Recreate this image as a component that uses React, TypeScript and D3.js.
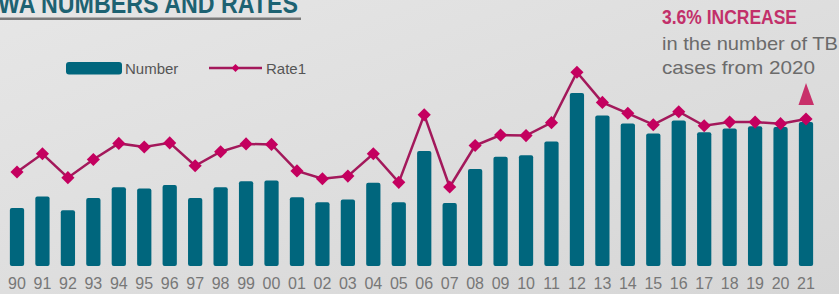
import React, { useEffect } from "react";
import * as d3 from "d3";

const years = ["90","91","92","93","94","95","96","97","98","99","00","01","02","03","04","05","06","07","08","09","10","11","12","13","14","15","16","17","18","19","20","21"];
const numberValues = [80,96,77,94,109,107,112,94,109,117,118,95,88,92,115,88,159,87,134,151,153,172,239,208,197,183,201,185,190,193,192,199];
const rateValues = [1.58,1.93,1.47,1.82,2.13,2.06,2.14,1.70,1.97,2.12,2.11,1.60,1.45,1.50,1.93,1.38,2.68,1.29,2.09,2.29,2.28,2.53,3.50,2.92,2.71,2.49,2.74,2.47,2.54,2.54,2.51,2.60];
const titleText = "WA NUMBERS AND RATES";
const annotHeadline = "3.6% INCREASE";
const annotLines = ["in the number of TB", "cases from 2020"];
const annotWidths = [176, 153];
const legendLabels = ["Number", "Rate1"];

const W = 839, H = 294;
const TEAL = "#00667d";
const LINE = "#a3195b";
const MARK = "#c4005f";

export default function App() {
  useEffect(() => { document.body.style.margin = "0"; }, []);
  const x = d3.scalePoint<string>().domain(years).range([17, 806]);
  const bw = x.step() * 0.56;
  const yN = d3.scaleLinear().domain([0, 199]).range([266, 122]);
  const yR = d3.scaleLinear().domain([0, 2.6]).range([254, 119]);
  const line = d3.line<number>().x((_, i) => x(years[i])!).y(d => yR(d));
  const diamond = d3.symbol().type(d3.symbolDiamond2 || d3.symbolDiamond).size(110)();
  const font = "'Liberation Sans', Arial, sans-serif";
  return (
    <svg width={W} height={H} style={{ display: "block" }} fontFamily={font}>
      <defs>
        <linearGradient id="bg" x1="0" y1="0" x2="1" y2="1">
          <stop offset="0" stopColor="#e6e6e6" />
          <stop offset="1" stopColor="#d6d6d6" />
        </linearGradient>
      </defs>
      <rect width={W} height={H} fill="url(#bg)" />
      <text x={-2} y={13} fontSize={28} fontWeight="bold" fill="#1d6272" textLength={300} lengthAdjust="spacingAndGlyphs">{titleText}</text>
      <rect x={0} y={17.5} width={301} height={2.5} fill="#7a7a7a" />

      <text x={662} y={24} fontSize={20} fontWeight="bold" fill="#c2306a" textLength={135} lengthAdjust="spacingAndGlyphs">{annotHeadline}</text>
      {annotLines.map((t, i) => (
        <text key={t} x={662} y={50 + i * 24} fontSize={19} fill="#6b6b6b" textLength={annotWidths[i]} lengthAdjust="spacingAndGlyphs">{t}</text>
      ))}
      <path d={`M${806},83 L${814},105 L${798.5},105 Z`} fill="#c8306a" />

      <rect x={66} y={62} width={56} height={12.5} rx={3} fill={TEAL} />
      <text x={125} y={73.5} fontSize={15} fill="#555">{legendLabels[0]}</text>
      <line x1={209} x2={262} y1={68} y2={68} stroke={LINE} strokeWidth={2.5} />
      <path d={diamond} transform="translate(235.5,68) scale(0.6)" fill={MARK} />
      <text x={266} y={73.5} fontSize={15} fill="#555">{legendLabels[1]}</text>

      {numberValues.map((v, i) => (
        <rect key={years[i]} x={x(years[i])! - bw / 2} y={yN(v)} width={bw} height={yN(0) - yN(v)} rx={2} fill={TEAL} />
      ))}
      <path d={line(rateValues) || ""} fill="none" stroke={LINE} strokeWidth={2.5} />
      {rateValues.map((v, i) => (
        <path key={years[i]} d={diamond} transform={`translate(${x(years[i])},${yR(v)})`} fill={MARK} />
      ))}
      {years.map(y => (
        <text key={y} x={x(y)} y={289} fontSize={16} fill="#777" textAnchor="middle">{y}</text>
      ))}
    </svg>
  );
}
